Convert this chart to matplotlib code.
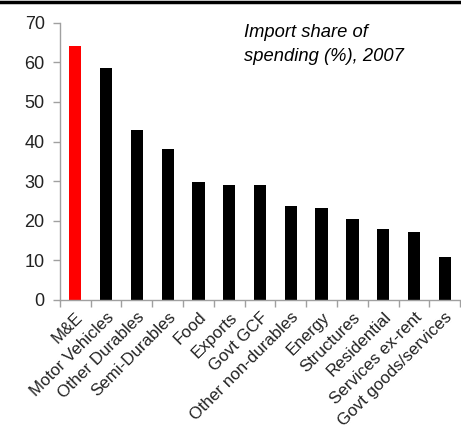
import numpy as np
import matplotlib
matplotlib.use('Agg')
import matplotlib.pyplot as plt
from matplotlib.lines import Line2D

plt.rcParams['font.family'] = ['Liberation Sans', 'DejaVu Sans']

categories = ['M&E', 'Motor Vehicles', 'Other Durables', 'Semi-Durables', 'Food',
              'Exports', 'Govt GCF', 'Other non-durables', 'Energy', 'Structures',
              'Residential', 'Services ex-rent', 'Govt goods/services']
import_share = [64.0, 58.5, 42.8, 38.1, 29.8, 29.1, 28.9, 23.6, 23.1, 20.5, 17.8, 17.1, 10.8]

colors = ['#ff0000'] + ['#000000'] * (len(categories) - 1)
grey = '#a0a0a0'

fig = plt.figure(figsize=(4.61, 4.29), dpi=100)
ax = fig.add_axes([0.130, 0.301, 0.868, 0.646])

x = np.arange(len(categories))
ax.bar(x, import_share, width=0.4, color=colors, edgecolor='none')

ax.set_xlim(-0.5, len(categories) - 0.5)
ax.set_ylim(0, 70)
ax.set_yticks(range(0, 71, 10))

# labels under the bars, tick marks between categories
ax.set_xticks(x)
ax.set_xticklabels(categories, rotation=45, ha='right', rotation_mode='anchor')
ax.set_xticks(np.arange(-0.5, len(categories), 1), minor=True)
ax.tick_params(axis='x', which='major', length=0, pad=7, labelsize=12.2, labelcolor='#222222')
ax.tick_params(axis='x', which='minor', length=5, color=grey, width=1)
ax.tick_params(axis='y', length=5, color=grey, width=1, labelsize=13, pad=6, labelcolor='#222222')

for side in ['top', 'right']:
    ax.spines[side].set_visible(False)
for side in ['left', 'bottom']:
    ax.spines[side].set_color(grey)
    ax.spines[side].set_linewidth(1)

ax.text(0.46, 0.995, 'Import share of\nspending (%), 2007', transform=ax.transAxes,
        fontsize=13.2, style='italic', va='top', ha='left', linespacing=1.55)

# black rule along the top edge
fig.add_artist(Line2D([0, 1], [0.996, 0.996], transform=fig.transFigure,
                      color='black', linewidth=2.5))

plt.savefig('out.png', dpi=100)
